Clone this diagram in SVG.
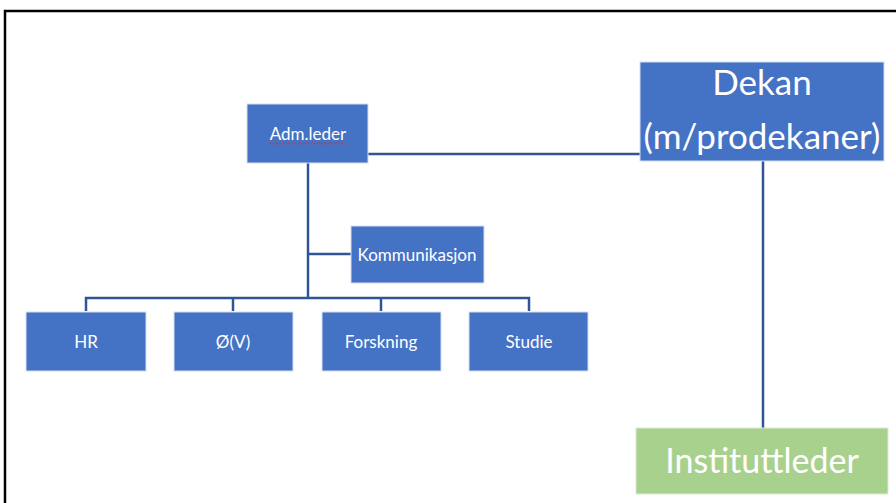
<svg xmlns="http://www.w3.org/2000/svg" width="896" height="503" viewBox="0 0 896 503">
<style>
.b{fill:#4472C4;stroke:#D5DEF0;stroke-width:1}
.g{fill:#A9D18E;stroke:#DCEBD2;stroke-width:1}
.t{font-family:Lato,"Noto Sans",sans-serif;fill:#fff;text-anchor:middle}
.s{font-size:17px}
.l{font-size:35px}
.c{fill:none;stroke:#2F5597;stroke-width:2.5}
</style>
<rect x="0" y="0" width="896" height="503" fill="#fff"/>
<path d="M5,503 V11 H896" fill="none" stroke="#000" stroke-width="2.5"/>
<g id="connectors">
<path class="c" d="M368,154 H640"/>
<path class="c" d="M308,163 V298"/>
<path class="c" d="M308,254 H351"/>
<path class="c" d="M86,311 V298 H529 V311"/>
<path class="c" d="M233,298 V311"/>
<path class="c" d="M381,298 V311"/>
<path class="c" d="M763,161 V428"/>
</g>
<g id="adm">
<rect class="b" x="247" y="104" width="121" height="59"/>
<text class="t s" x="308" y="140">Adm.leder</text>
<path d="M269,143.5 q1.5,-1.5 3,0 t3,0 t3,0 t3,0 t3,0 t3,0 t3,0 t3,0 t3,0 t3,0 t3,0 t3,0 t3,0 t3,0 t3,0 t3,0 t3,0 t3,0 t3,0 t3,0 t3,0 t3,0 t3,0 t3,0 t3,0 t3,0" fill="none" stroke="#E03030" stroke-width="0.8"/>
</g>
<g id="dekan">
<rect class="b" x="640" y="62" width="244" height="99"/>
<text class="t l" x="762" y="95">Dekan</text>
<text class="t l" x="762" y="149">(m/prodekaner)</text>
</g>
<g id="kommunikasjon">
<rect class="b" x="351" y="226" width="133" height="57"/>
<text class="t s" x="417" y="261">Kommunikasjon</text>
</g>
<g id="hr">
<rect class="b" x="26" y="312" width="120" height="59"/>
<text class="t s" x="86" y="348">HR</text>
</g>
<g id="ov">
<rect class="b" x="174" y="312" width="119" height="59"/>
<text class="t s" x="233" y="348">Ø(V)</text>
</g>
<g id="forskning">
<rect class="b" x="322" y="312" width="119" height="59"/>
<text class="t s" x="381" y="348">Forskning</text>
</g>
<g id="studie">
<rect class="b" x="469" y="312" width="119" height="59"/>
<text class="t s" x="529" y="348">Studie</text>
</g>
<g id="instituttleder">
<rect class="g" x="636" y="428" width="252" height="66"/>
<text class="t l" x="762" y="473" style="font-size:34px">Instituttleder</text>
</g>
</svg>
